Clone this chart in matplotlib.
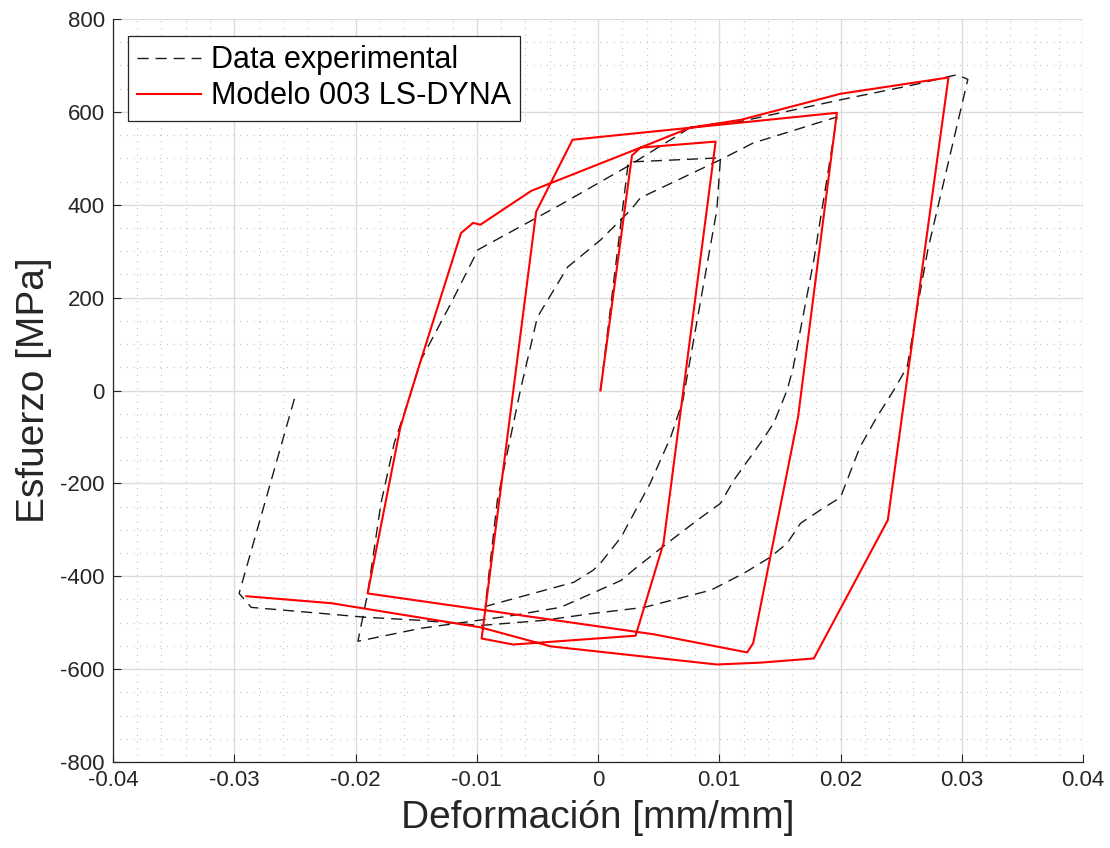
import matplotlib
matplotlib.use("Agg")
import matplotlib.pyplot as plt
from matplotlib.ticker import MultipleLocator, FuncFormatter

plt.rcParams['font.family'] = ['Liberation Sans', 'DejaVu Sans']

# ensayo experimental (deformacion, esfuerzo)
exp_def = [0.0002, 0.0025, 0.0101, 0.0098, 0.0070, 0.0060, 0.0043, 0.0019, 0.0002, -0.0004,
           -0.0020, -0.0093,
           -0.0083, -0.0064, -0.0050, -0.0025, 0.0002, 0.0027, 0.0035, 0.0101, 0.0128, 0.0197,
           0.0190, 0.0178, 0.0161, 0.0156, 0.0145, 0.0134, 0.0112, 0.0101, 0.0082, 0.0057,
           0.0029, 0.0019, -0.0031, -0.0074, -0.0146, -0.0198,
           -0.0190, -0.0179, -0.0168, -0.0157, -0.0146, -0.0121, -0.0099, -0.0031, 0.0024,
           0.0076, 0.0117, 0.0200, 0.0260, 0.0296, 0.0305,
           0.0272, 0.0263, 0.0255, 0.0244, 0.0230, 0.0216, 0.0200, 0.0183, 0.0167, 0.0156,
           0.0142, 0.0120, 0.0093, 0.0038, -0.0004, -0.0045, -0.0097, -0.0146, -0.0193,
           -0.0228, -0.0286, -0.0296, -0.0249]
exp_esf = [0, 492, 501, 389, -21, -100, -200, -316, -372, -387,
           -413, -465,
           -236, 1, 158, 266, 324, 389, 415, 497, 533, 589,
           475, 281, 50, 1, -70, -113, -193, -243, -279, -329,
           -387, -409, -467, -486, -512, -540,
           -437, -243, -113, -27, 66, 189, 303, 400, 482,
           566, 579, 626, 658, 680, 670,
           303, 174, 51, 1, -57, -122, -230, -258, -286, -329,
           -359, -394, -430, -467, -480, -495, -506, -495, -488,
           -480, -467, -437, -5]

# modelo LS-DYNA
mod_def = [0.0002, 0.0028, 0.0035, 0.0097, 0.0054, 0.0031, -0.0070, -0.0096,
           -0.0051, -0.0021, 0.0197, 0.0165, 0.0128, 0.0123, 0.0046, -0.0190,
           -0.0163, -0.0157, -0.0146, -0.0113, -0.0103, -0.0097, -0.0055, 0.0035,
           0.0076, 0.0118, 0.0200, 0.0289, 0.0239, 0.0178, 0.0134, 0.0098,
           -0.0039, -0.0097, -0.0220, -0.0290]
mod_esf = [0, 506, 523, 536, -329, -528, -547, -534,
           385, 540, 598, -57, -544, -564, -525, -437,
           -79, -27, 66, 339, 361, 357, 430, 523,
           566, 583, 639, 674, -279, -577, -586, -590,
           -551, -510, -458, -443]

fig = plt.figure(figsize=(11.1, 8.48), dpi=100)
ax = fig.add_axes([0.1018, 0.1014, 0.8739, 0.8762])

ax.plot(exp_def, exp_esf, color='#1a1a1a', linestyle=(0, (8, 5)), linewidth=1.0,
        label='Data experimental')
ax.plot(mod_def, mod_esf, color='#ff0000', linewidth=1.5, label='Modelo 003 LS-DYNA')

ax.set_xlim(-0.04, 0.04)
ax.set_ylim(-800, 800)
ax.xaxis.set_major_locator(MultipleLocator(0.01))
ax.xaxis.set_minor_locator(MultipleLocator(0.002))
ax.yaxis.set_major_locator(MultipleLocator(200))
ax.yaxis.set_minor_locator(MultipleLocator(50))
ax.xaxis.set_major_formatter(FuncFormatter(lambda v, p: '0' if abs(v) < 1e-9 else ('%.2f' % v)))
ax.yaxis.set_major_formatter(FuncFormatter(lambda v, p: '%d' % round(v)))

ax.grid(which='major', color='#dcdcdc', linestyle='-', linewidth=1.0)
ax.grid(which='minor', color='#c4c4c4', linestyle=(0, (1, 5)), linewidth=0.8)
ax.set_axisbelow(True)

for s in ['top', 'right']:
    ax.spines[s].set_visible(False)
for s in ['left', 'bottom']:
    ax.spines[s].set_color('#262626')
    ax.spines[s].set_linewidth(0.9)
ax.tick_params(which='major', direction='in', length=6, labelsize=16, colors='#262626', pad=6)
ax.tick_params(which='minor', length=0)

ax.set_xlabel('Deformación [mm/mm]', fontsize=28, color='#262626', labelpad=6)
ax.set_ylabel('Esfuerzo [MPa]', fontsize=28, color='#262626', labelpad=6)

leg = ax.legend(loc='upper left', bbox_to_anchor=(0.0155, 0.977), borderaxespad=0,
                fontsize=22, fancybox=False, framealpha=1, edgecolor='#262626',
                handlelength=2.1, labelspacing=0.2, borderpad=0.3, handletextpad=0.3)
leg.get_frame().set_linewidth(0.9)

fig.savefig('out.png', dpi=100)
